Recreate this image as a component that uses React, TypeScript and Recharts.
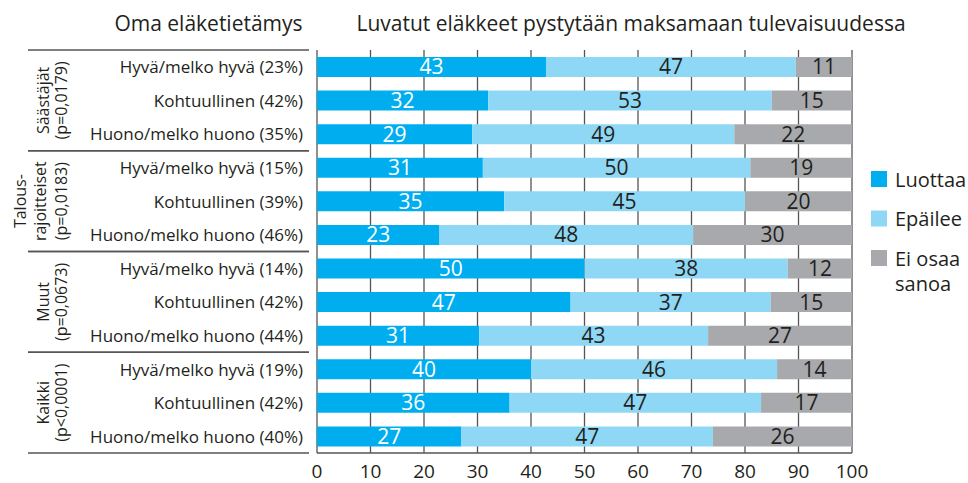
import React from 'react';
import { BarChart, Bar, XAxis, YAxis, CartesianGrid, LabelList, Customized } from 'recharts';

const rowLabels = [
  'Hyvä/melko hyvä (23%)', 'Kohtuullinen (42%)', 'Huono/melko huono (35%)',
  'Hyvä/melko hyvä (15%)', 'Kohtuullinen (39%)', 'Huono/melko huono (46%)',
  'Hyvä/melko hyvä (14%)', 'Kohtuullinen (42%)', 'Huono/melko huono (44%)',
  'Hyvä/melko hyvä (19%)', 'Kohtuullinen (42%)', 'Huono/melko huono (40%)',
];
const groupOfRow = [0, 0, 0, 1, 1, 1, 2, 2, 2, 3, 3, 3];
const groupLabels = [
  ['Säästäjät', '(p=0,0179)'],
  ['Talous-', 'rajoitteiset', '(p=0,0183)'],
  ['Muut', '(p=0,0673)'],
  ['Kaikki', '(p<0,0001)'],
];
// bar lengths
const luottaa = [42.8, 32, 29, 31, 35, 22.9, 50, 47.4, 30.3, 40, 36, 27];
const epailee = [46.7, 53, 49, 50, 45, 47.4, 38, 37.4, 42.8, 46, 47, 47];
const eiOsaa = [10.5, 15, 22, 19, 20, 29.7, 12, 15.2, 26.9, 14, 17, 26];
// printed value labels
const luottaaText = [43, 32, 29, 31, 35, 23, 50, 47, 31, 40, 36, 27];
const epaileeText = [47, 53, 49, 50, 45, 48, 38, 37, 43, 46, 47, 47];
const eiOsaaText = [11, 15, 22, 19, 20, 30, 12, 15, 27, 14, 17, 26];
const xTicks = [0, 10, 20, 30, 40, 50, 60, 70, 80, 90, 100];
const legendRows = [['Luottaa'], ['Epäilee'], ['Ei osaa', 'sanoa']];
const leftTitle = 'Oma eläketietämys';
const mainTitle = 'Luvatut eläkkeet pystytään maksamaan tulevaisuudessa';

const data = rowLabels.map((label, i) => ({
  id: 'r' + i,
  label,
  luottaa: luottaa[i],
  epailee: epailee[i],
  eiOsaa: eiOsaa[i],
  luottaaText: luottaaText[i],
  epaileeText: epaileeText[i],
  eiOsaaText: eiOsaaText[i],
}));

const FONT = '"Open Sans", "Noto Sans", sans-serif';
const TEXT = '#231f20';
const C1 = '#00aeef';
const C2 = '#8ed8f6';
const C3 = '#a7a9ac';
const GRID = '#555555';

const PLOT_TOP = 50;
const PLOT_BOTTOM = 453;
const BAND = (PLOT_BOTTOM - PLOT_TOP) / rowLabels.length;

const RowTick = (props: any) => {
  const { y, payload } = props;
  const i = parseInt(String(payload.value).slice(1), 10);
  const g = groupOfRow[i];
  const first = groupOfRow.indexOf(g);
  const last = groupOfRow.lastIndexOf(g);
  const els: any[] = [];
  els.push(
    <text key="t" x={303} y={y} textAnchor="end" dominantBaseline="central"
      fontFamily={FONT} fontSize={17} fill={TEXT}>{rowLabels[i]}</text>
  );
  if (i === first) {
    const ly = y - BAND / 2;
    els.push(<line key="l1" x1={28} x2={309} y1={ly} y2={ly} stroke={GRID} strokeWidth={1.3} />);
  }
  if (i === last) {
    const ly = y + BAND / 2;
    els.push(<line key="l2" x1={28} x2={309} y1={ly} y2={ly} stroke={GRID} strokeWidth={1.3} />);
  }
  if (i === Math.floor((first + last) / 2)) {
    const cy = y + ((first + last) / 2 - i) * BAND;
    const lines = groupLabels[g];
    const xs = lines.length === 3 ? [20, 40, 61] : [43, 61];
    lines.forEach((t, k) => {
      els.push(
        <text key={'g' + k} x={xs[k]} y={cy} textAnchor="middle" dominantBaseline="central"
          transform={`rotate(-90 ${xs[k]} ${cy})`} fontFamily={FONT} fontSize={16} fill={TEXT}>{t}</text>
      );
    });
  }
  return <g>{els}</g>;
};

const Decor = () => {
  const colors = [C1, C2, C3];
  return (
    <g>
      <text x={208.5} y={23} textAnchor="middle" dominantBaseline="central" fontFamily={FONT} fontSize={21} fill={TEXT}>{leftTitle}</text>
      <text x={631} y={23} textAnchor="middle" dominantBaseline="central" fontFamily={FONT} fontSize={21} fill={TEXT}>{mainTitle}</text>
      {legendRows.map((r, k) => {
        const cy = 179 + k * 39.5;
        return (
          <g key={k}>
            <rect x={871} y={cy - 8} width={16} height={16} fill={colors[k]} />
            {r.map((t, j) => (
              <text key={j} x={895} y={cy + j * 25} dominantBaseline="central" fontFamily={FONT} fontSize={20} fill={TEXT}>{t}</text>
            ))}
          </g>
        );
      })}
    </g>
  );
};

export default function App() {
  return (
    <div style={{ position: 'absolute', left: 0, top: 0, width: 968, height: 483, background: '#fff' }}>
      <BarChart
        width={968}
        height={483}
        data={data}
        layout="vertical"
        margin={{ top: PLOT_TOP, right: 116, bottom: 0, left: 0 }}
        barCategoryGap={0}
      >
        <CartesianGrid vertical horizontal={false} stroke={GRID} strokeWidth={1.3} />
        <XAxis
          type="number"
          domain={[0, 100]}
          ticks={xTicks}
          allowDataOverflow
          height={30}
          tickLine={false}
          tickMargin={6}
          axisLine={{ stroke: GRID, strokeWidth: 1.3 }}
          tick={{ fill: TEXT, fontSize: 19, fontFamily: FONT }}
          interval={0}
        />
        <XAxis xAxisId="top" orientation="top" type="number" domain={[0, 100]}
          height={0} tick={false} tickLine={false} axisLine={{ stroke: GRID, strokeWidth: 1.3 }} />
        <YAxis
          type="category"
          dataKey="id"
          width={317}
          axisLine={false}
          tickLine={false}
          tick={<RowTick />}
          interval={0}
        />
        <Bar dataKey="luottaa" stackId="a" fill={C1} barSize={20} isAnimationActive={false}>
          <LabelList dataKey="luottaaText" position="center" fill="#ffffff" fontSize={21} fontFamily={FONT} />
        </Bar>
        <Bar dataKey="epailee" stackId="a" fill={C2} barSize={20} isAnimationActive={false}>
          <LabelList dataKey="epaileeText" position="center" fill={TEXT} fontSize={21} fontFamily={FONT} />
        </Bar>
        <Bar dataKey="eiOsaa" stackId="a" fill={C3} barSize={20} isAnimationActive={false}>
          <LabelList dataKey="eiOsaaText" position="center" fill={TEXT} fontSize={21} fontFamily={FONT} />
        </Bar>
        <Customized component={<Decor />} />
      </BarChart>
    </div>
  );
}
